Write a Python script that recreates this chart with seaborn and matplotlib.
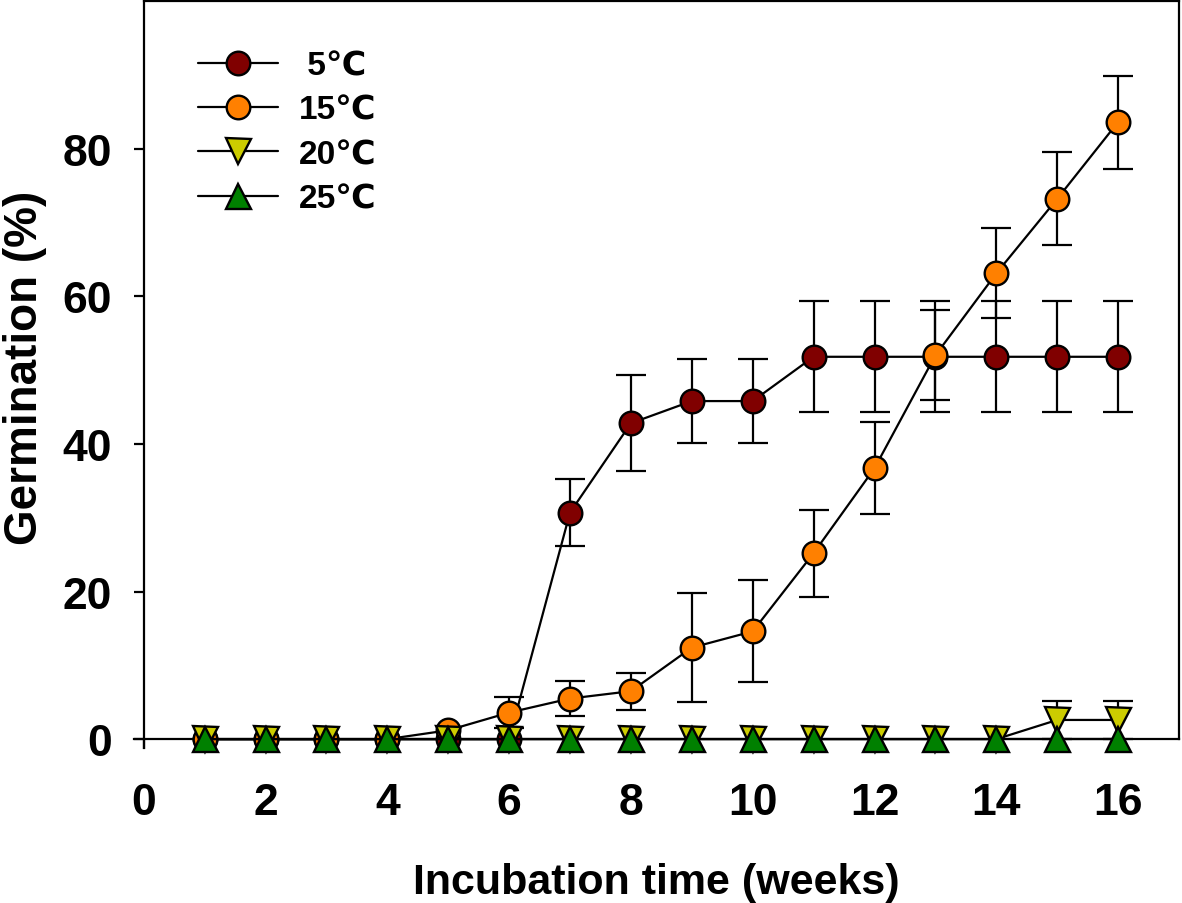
import numpy as np
import pandas as pd
import matplotlib
matplotlib.use("Agg")
import matplotlib.pyplot as plt
import seaborn as sns

weeks = list(range(1, 17))
labels = [" 5℃", "15℃", "20℃", "25℃"]
g5 = [0, 0, 0, 0, 0, 0, 30.7, 42.8, 45.8, 45.8, 51.8, 51.8, 51.8, 51.8, 51.8, 51.8]
g5_err = [0, 0, 0, 0, 0, 0, 4.5, 6.5, 5.7, 5.7, 7.5, 7.5, 7.5, 7.5, 7.5, 7.5]
g15 = [0, 0, 0, 0, 1.2, 3.6, 5.5, 6.5, 12.4, 14.6, 25.2, 36.7, 52.0, 63.1, 73.2, 83.6]
g15_err = [0, 0, 0, 0, 0, 2.1, 2.4, 2.5, 7.4, 6.9, 5.9, 6.2, 6.1, 6.1, 6.3, 6.3]
g20 = [0] * 14 + [2.6, 2.6]
g20_err = [0] * 14 + [2.6, 2.6]
g25 = [0] * 16
g25_err = [0] * 16

series = [
    (labels[0], g5, g5_err, "o", "#800000", 17),
    (labels[1], g15, g15_err, "o", "#FF8000", 17),
    (labels[2], g20, g20_err, "v", "#CCCC00", 18),
    (labels[3], g25, g25_err, "^", "#008000", 18),
]

sns.set_style("ticks")
plt.rcParams["font.family"] = ["Liberation Sans", "DejaVu Sans"]
plt.rcParams["font.weight"] = "bold"
plt.rcParams["text.color"] = "black"
plt.rcParams["axes.labelcolor"] = "black"
plt.rcParams["xtick.color"] = "black"
plt.rcParams["ytick.color"] = "black"

fig = plt.figure(figsize=(11.82, 9.04), dpi=100)
ax = fig.add_axes([134 / 1182, 155 / 904, (1179 - 134) / 1182, (749 - 2) / 904])

for i, (lab, y, err, mk, col, ms) in enumerate(series):
    df = pd.DataFrame({"week": weeks, "germ": y})
    e = np.array(err)
    mask = e > 0
    if mask.any():
        ax.errorbar(np.array(weeks)[mask], np.array(y)[mask], yerr=e[mask], fmt="none",
                    ecolor="black", elinewidth=1.6, capsize=11, capthick=1.6,
                    zorder=2 + i, clip_on=False)
    sns.lineplot(data=df, x="week", y="germ", ax=ax, color="black", linewidth=1.6,
                 marker=mk, markersize=ms, markerfacecolor=col, markeredgecolor="black",
                 markeredgewidth=1.7, label=lab, zorder=3 + i, clip_on=False)

ax.set_xlim(-0.16, 17)
ax.set_ylim(-1.2, 100)
ax.set_xticks(range(0, 17, 2))
ax.set_yticks(range(0, 81, 20))

ax.spines["left"].set_position(("data", 0))
ax.spines["bottom"].set_position(("data", 0))
ax.spines["top"].set_bounds(0, 17)
ax.spines["right"].set_bounds(0, 100)
for s in ax.spines.values():
    s.set_linewidth(1.6)
    s.set_color("black")

ax.tick_params(axis="both", direction="out", length=7, width=1.6, labelsize=32,
               colors="black")
ax.tick_params(axis="x", pad=24)
ax.tick_params(axis="y", pad=16)
for t in ax.get_xticklabels() + ax.get_yticklabels():
    t.set_fontweight("bold")

ax.set_xlabel("Incubation time (weeks)", fontsize=31, fontweight="bold", labelpad=28)
ax.set_ylabel("Germination (%)", fontsize=33, fontweight="bold")
ax.yaxis.set_label_coords(-0.083, 0.51)

leg = ax.legend(loc="upper left", bbox_to_anchor=(0.033, 0.974), frameon=False,
                handlelength=2.4, labelspacing=0.4, handletextpad=0.6,
                prop={"weight": "bold", "size": 24})
for t in leg.get_texts():
    t.set_color("black")

fig.savefig("out.png", dpi=100)
